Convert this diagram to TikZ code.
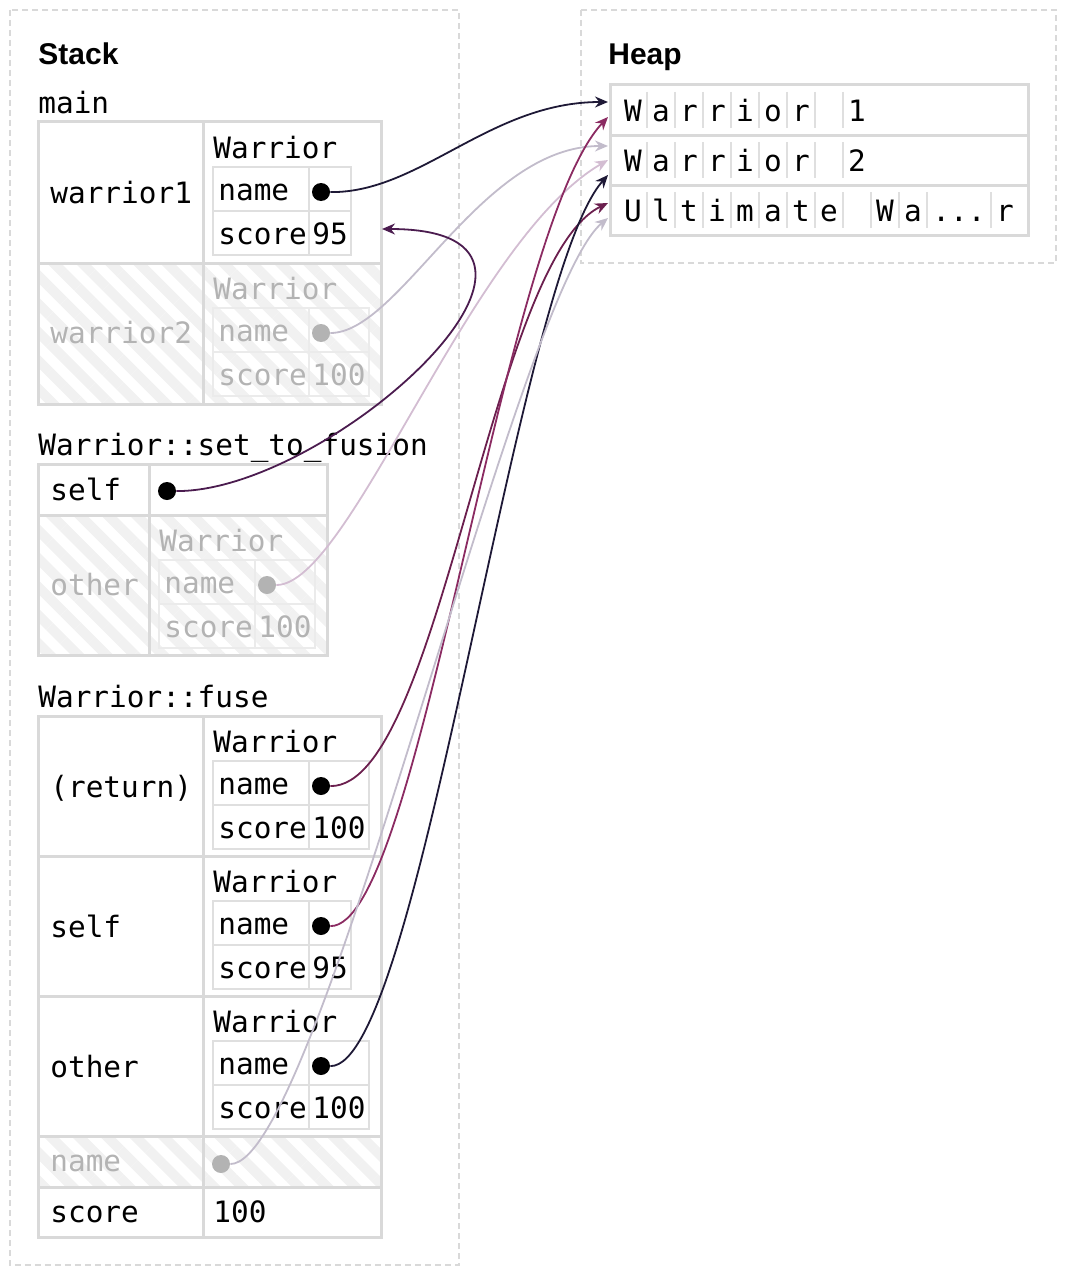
\documentclass[tikz,border=0pt]{standalone}
\usepackage{fontspec}
\setmainfont{Liberation Sans}
\setmonofont{DejaVu Sans Mono}
\usetikzlibrary{arrows.meta,patterns.meta}

\definecolor{rule}{HTML}{D9D9D9}
\definecolor{thin}{HTML}{DFDFDF}
\definecolor{ghost}{HTML}{B3B3B3}
\definecolor{ghostrule}{HTML}{EBEBEB}
\definecolor{stripe}{HTML}{F1F1F1}
\definecolor{navy}{HTML}{1E1936}
\definecolor{plum}{HTML}{4B1C4F}
\definecolor{berry}{HTML}{8B2B62}
\definecolor{wine}{HTML}{6B1F4E}
\definecolor{mist}{HTML}{C2BCCB}
\definecolor{blush}{HTML}{D3BDD2}

\def\warrior[#1:#2](#3,#4)(#5:#6:#7){
	\node[txt,text=#2] (#7t) at (#3+10,#4+36) {Warrior};
	\draw[draw=#1,line width=1pt] (#3+10,#4+45) rectangle (#3+106+#6,#4+133);
	\draw[draw=#1,line width=1pt] (#3+10,#4+89) -- (#3+106+#6,#4+89);
	\draw[draw=#1,line width=1pt] (#3+106,#4+45) -- (#3+106,#4+133);
	\node[txt,text=#2] (#7n) at (#3+15,#4+78) {name};
	\node[txt,text=#2] (#7s) at (#3+15,#4+122) {score};
	\node[txt,text=#2] (#7v) at (#3+109,#4+122) {#5};
	\node[dot,fill=#2] (#7) at (#3+118,#4+70) {};
}

\begin{document}
\begin{tikzpicture}[x=0.5pt,y=-0.5pt,font=\fontsize{14.7}{17}\selectfont\ttfamily,
	txt/.style={anchor=base west,inner sep=0pt},
	chr/.style={anchor=base,inner sep=0pt},
	head/.style={txt,font=\fontsize{15}{18}\selectfont\bfseries\rmfamily},
	dot/.style={circle,inner sep=0pt,minimum size=9pt},
	frame/.style={draw=rule,line width=1.5pt},
	sep/.style={draw=thin,line width=0.75pt},
	region/.style={draw=rule,line width=0.6pt,dash pattern=on 3pt off 2pt},
	hatched/.style={pattern={Lines[angle=-45,distance=10pt,line width=5pt]},pattern color=stripe},
	link/.style={line width=0.9pt,-{Stealth[length=6.5pt,width=5.5pt]}}]
	\useasboundingbox (0,0) rectangle (1068,1284);

	\draw[region] (10,10) rectangle (459,1265);
	\draw[region] (581,10) rectangle (1056,263);
	\node[head] (stack) at (38,65) {Stack};
	\node[head] (heap) at (608,65) {Heap};

	\node[txt] (main) at (38,113) {main};
	\fill[hatched] (38,263) rectangle (381,404);
	\draw[frame] (38,122) rectangle (381,404);
	\draw[frame] (203,122) -- (203,404);
	\draw[frame] (38,263) -- (381,263);
	\node[txt] (w1lbl) at (50,203) {warrior1};
	\node[txt,text=ghost] (w2lbl) at (50,343) {warrior2};
	\warrior[thin:black](203,122)(95:42:w1name)
	\warrior[ghostrule:ghost](203,263)(100:60:w2name)

	\node[txt] (stf) at (38,455) {Warrior::set\_to\_fusion};
	\fill[hatched] (38,515) rectangle (327,655);
	\draw[frame] (38,464) rectangle (327,655);
	\draw[frame] (149,464) -- (149,655);
	\draw[frame] (38,515) -- (327,515);
	\node[txt] (stfselflbl) at (50,500) {self};
	\node[dot,fill=black] (stfself) at (167,491) {};
	\node[txt,text=ghost] (stfotherlbl) at (50,595) {other};
	\warrior[ghostrule:ghost](149,515)(100:60:stfname)

	\node[txt] (fuse) at (38,707) {Warrior::fuse};
	\fill[hatched] (38,1136) rectangle (381,1187);
	\draw[frame] (38,716) rectangle (381,1237);
	\draw[frame] (203,716) -- (203,1237);
	\draw[frame] (38,856) -- (381,856) (38,996) -- (381,996) (38,1136) -- (381,1136) (38,1187) -- (381,1187);
	\node[txt] (retlbl) at (50,797) {(return)};
	\node[txt] (selflbl) at (50,937) {self};
	\node[txt] (othlbl) at (50,1077) {other};
	\node[txt,text=ghost] (namelbl) at (50,1171) {name};
	\node[dot,fill=ghost] (fusename) at (221,1164) {};
	\node[txt] (scorelbl) at (50,1222) {score};
	\node[txt] (scoreval) at (213,1222) {100};
	\warrior[thin:black](203,716)(100:60:retname)
	\warrior[thin:black](203,856)(95:42:selfname)
	\warrior[thin:black](203,996)(100:60:othname)

	\draw[frame] (610,85) rectangle (1028,235);
	\draw[frame] (610,135) -- (1028,135) (610,185) -- (1028,185);
	\foreach \x in {647,675,...,843} {
		\draw[sep] (\x,92) -- (\x,128);
		\draw[sep] (\x,142) -- (\x,178);
	}
	\foreach \x in {647,675,...,927} \draw[sep] (\x,192) -- (\x,228);
	\draw[sep] (991,192) -- (991,228);
	\foreach \i/\c in {0/W,1/a,2/r,3/r,4/i,5/o,6/r,8/1} \node[chr] (a\i) at (633+28*\i,121) {\c};
	\foreach \i/\c in {0/W,1/a,2/r,3/r,4/i,5/o,6/r,8/2} \node[chr] (b\i) at (633+28*\i,171) {\c};
	\foreach \i/\c in {0/U,1/l,2/t,3/i,4/m,5/a,6/t,7/e,9/W,10/a} \node[chr] (c\i) at (633+28*\i,221) {\c};
	\node[chr] (c11) at (959,221) {...};
	\node[chr] (c12) at (1005,221) {r};

	\coordinate (h1a) at (608,102);
	\coordinate (h1b) at (608,117);
	\coordinate (h2a) at (608,146);
	\coordinate (h2b) at (608,160);
	\coordinate (h2c) at (608,175);
	\coordinate (h3a) at (608,203);
	\coordinate (h3b) at (608,218);
	\coordinate (w1edge) at (382,229);

	\draw[link,navy] (w1name) .. controls (420,193) and (490,102) .. (h1a);
	\draw[link,mist] (w2name) .. controls (400,333) and (480,146) .. (h2a);
	\draw[link,plum] (stfself) .. controls (330,492) and (620,229) .. (w1edge);
	\draw[link,blush] (stfname) .. controls (350,585) and (470,240) .. (h2b);
	\draw[link,wine] (retname) .. controls (440,787) and (490,260) .. (h3a);
	\draw[link,berry] (selfname) .. controls (420,927) and (500,232) .. (h1b);
	\draw[link,navy] (othname) .. controls (420,1067) and (515,280) .. (h2c);
	\draw[link,mist] (fusename) .. controls (320,1164) and (515,295) .. (h3b);
\end{tikzpicture}
\end{document}
